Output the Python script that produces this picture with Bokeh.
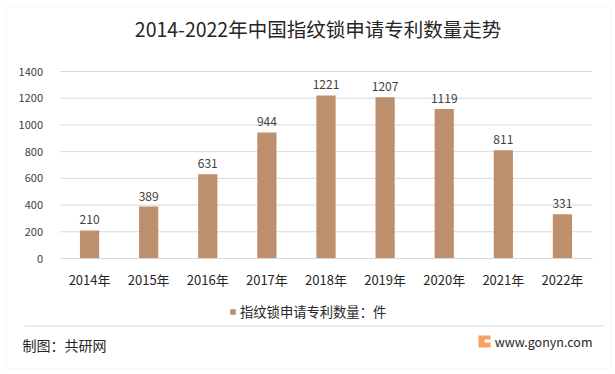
from bokeh.plotting import figure
from bokeh.models import (ColumnDataSource, Label, Legend, LegendItem, BoxAnnotation,
                          Range1d, FixedTicker)
from bokeh.core.properties import value
from bokeh.embed import file_html
from bokeh.resources import INLINE

years = ["2014年", "2015年", "2016年", "2017年", "2018年", "2019年", "2020年", "2021年", "2022年"]
counts = [210, 389, 631, 944, 1221, 1207, 1119, 811, 331]
y_ticks = [0, 200, 400, 600, 800, 1000, 1200, 1400]
title_text = "2014-2022年中国指纹锁申请专利数量走势"
legend_text = "指纹锁申请专利数量：件"
source_text = "制图：共研网"
site_text = "www.gonyn.com"

FONT = "Noto Sans CJK SC"
BAR = "#BE8F6D"
GRID = "#d9d9d9"
TXT = "#262626"

W, H = 615, 374
# plotting area inside the canvas (pixels)
AL, AR, AT, AB = 59.5, 591.5, 71, 258
n = len(years)
ymax = y_ticks[-1]
step = (AR - AL) / n
x_start = -0.5 - AL / step
x_end = x_start + W / step
ppu = (AB - AT) / ymax
y_start = -(H - AB) / ppu
y_end = ymax + AT / ppu

idx = list(range(n))
src = ColumnDataSource(dict(x=idx, y=counts, lab=[str(c) for c in counts]))

p = figure(width=W, height=H, x_range=Range1d(x_start, x_end), y_range=Range1d(y_start, y_end),
           output_backend="svg", toolbar_location=None, min_border=0)
p.background_fill_color = "white"
p.border_fill_color = "white"
p.outline_line_color = None
p.xgrid.visible = False
p.ygrid.visible = False

# grid lines
gsrc = ColumnDataSource(dict(y=y_ticks[1:], x0=[-0.5] * (len(y_ticks) - 1), x1=[n - 0.5] * (len(y_ticks) - 1)))
p.segment(x0="x0", x1="x1", y0="y", y1="y", source=gsrc, line_color=GRID, line_width=1)

r = p.vbar(x="x", top="y", width=0.325, source=src, fill_color=BAR, line_color=None)
p.text(x="x", y="y", text="lab", source=src, text_align="center", text_baseline="bottom",
       y_offset=-6, text_font=value(FONT), text_font_size="12px", text_color="#404040")

# axes drawn inside the canvas
p.yaxis.fixed_location = -0.5
p.yaxis.ticker = FixedTicker(ticks=y_ticks)
p.yaxis.bounds = (0, ymax)
p.yaxis.axis_line_color = None
p.yaxis.major_tick_line_color = None
p.yaxis.minor_tick_line_color = None
p.yaxis.major_label_text_font = FONT
p.yaxis.major_label_text_font_size = "11px"
p.yaxis.major_label_text_color = "#404040"
p.yaxis.major_label_standoff = 11

p.xaxis.fixed_location = 0
p.xaxis.ticker = FixedTicker(ticks=idx)
p.xaxis.major_label_overrides = {i: years[i] for i in idx}
p.xaxis.bounds = (-0.5, n - 0.5)
p.xaxis.axis_line_color = GRID
p.xaxis.major_tick_line_color = None
p.xaxis.minor_tick_line_color = None
p.xaxis.major_label_text_font = FONT
p.xaxis.major_label_text_font_size = "13px"
p.xaxis.major_label_text_color = TXT
p.xaxis.major_label_standoff = 5

legend = Legend(items=[LegendItem(label=legend_text, renderers=[r])],
                location=(229, 53), orientation="horizontal",
                label_text_font=FONT, label_text_font_size="13.3px", label_text_color=TXT,
                glyph_width=7, glyph_height=7, label_standoff=4,
                border_line_color=None, background_fill_alpha=0, padding=0, margin=0)
p.add_layout(legend, "center")

p.add_layout(Label(x=317.5, y=28, x_units="canvas", y_units="canvas", text=title_text,
                   text_align="center", text_baseline="middle", text_font=FONT,
                   text_font_size="19.5px", text_color=TXT))
p.add_layout(Label(x=22, y=344, x_units="canvas", y_units="canvas", text=source_text,
                   text_align="left", text_baseline="middle", text_font=FONT,
                   text_font_size="14px", text_color=TXT))
p.add_layout(Label(x=592, y=341, x_units="canvas", y_units="canvas", text=site_text,
                   text_align="right", text_baseline="middle", text_font=FONT,
                   text_font_size="12.5px", text_color=TXT))
# logo mark and separator line
p.add_layout(BoxAnnotation(left=478, right=490, top=335, bottom=347, left_units="canvas",
                           right_units="canvas", top_units="canvas", bottom_units="canvas",
                           fill_color="#F4A162", fill_alpha=1, line_color=None))
p.add_layout(BoxAnnotation(left=484, right=490, top=339, bottom=342, left_units="canvas",
                           right_units="canvas", top_units="canvas", bottom_units="canvas",
                           fill_color="white", fill_alpha=1, line_color=None))
p.add_layout(BoxAnnotation(left=24, right=604, top=325, bottom=326, left_units="canvas",
                           right_units="canvas", top_units="canvas", bottom_units="canvas",
                           fill_color=GRID, fill_alpha=1, line_color=None))
# outer border
p.add_layout(BoxAnnotation(left=5.5, right=610.5, top=5.5, bottom=368.5, left_units="canvas",
                           right_units="canvas", top_units="canvas", bottom_units="canvas",
                           fill_alpha=0, line_color=GRID, line_width=1))

out = file_html(p, INLINE)
open("out.html", "w").write(out)
